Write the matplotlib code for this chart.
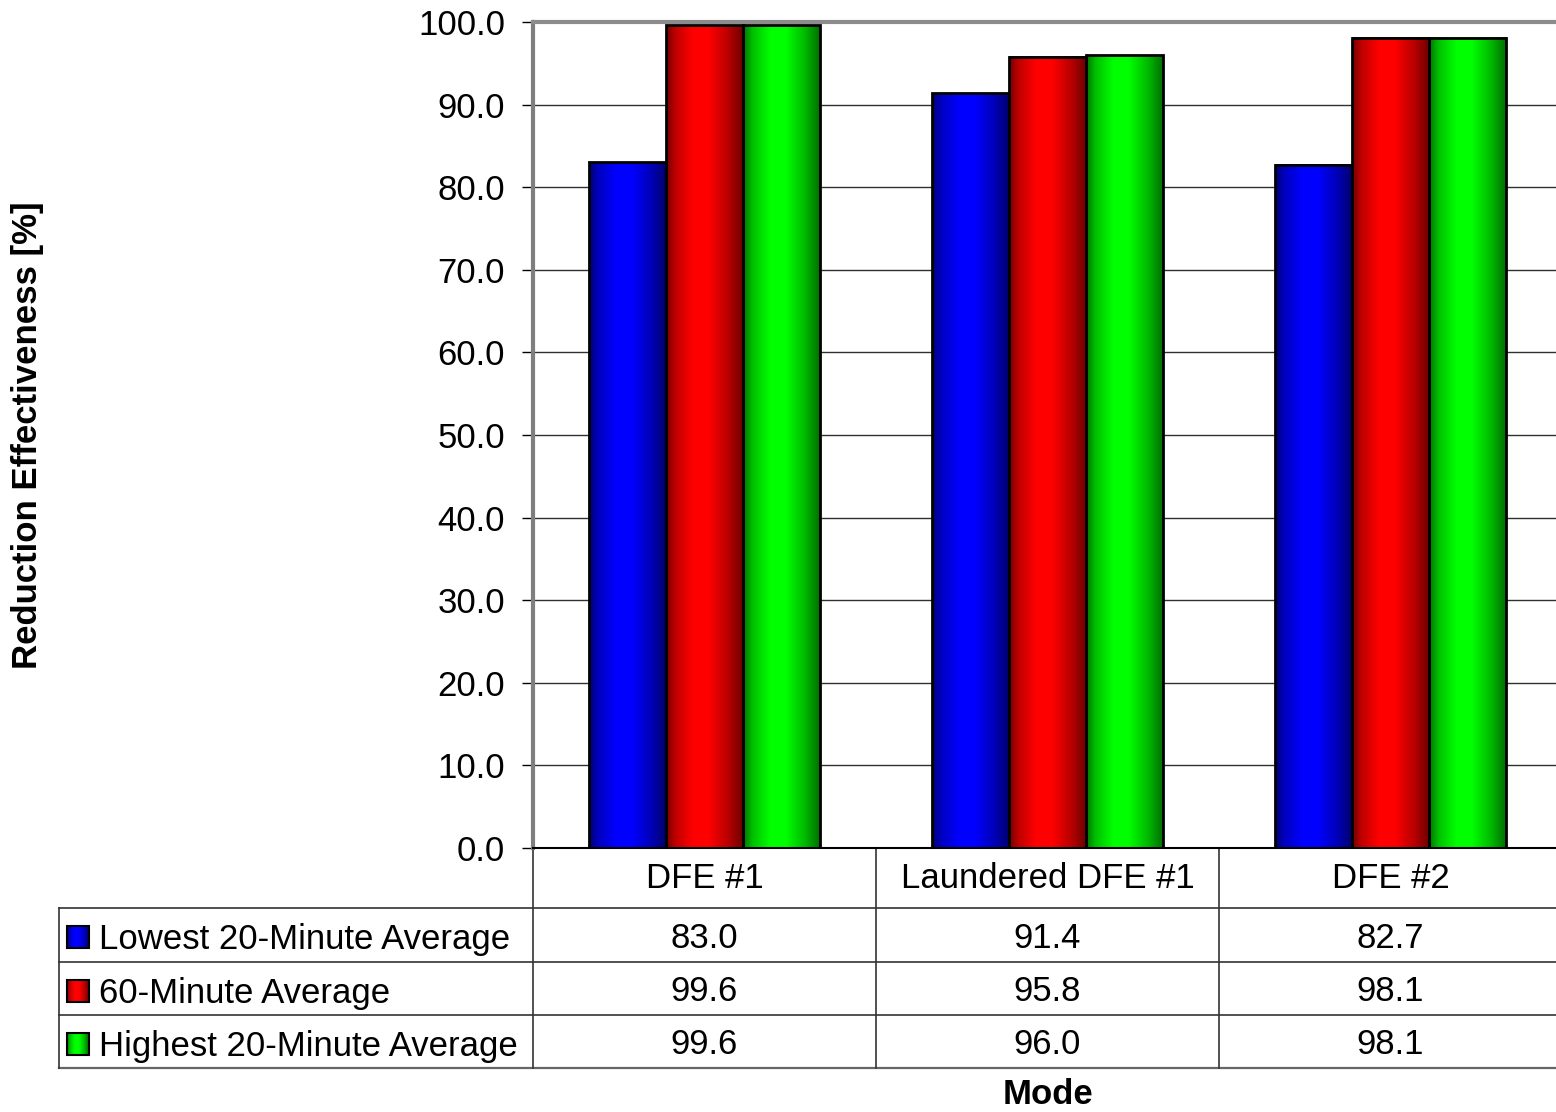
import matplotlib.pyplot as plt
import numpy as np
from matplotlib.patches import Rectangle
from matplotlib.ticker import FormatStrFormatter

modes = ["DFE #1", "Laundered DFE #1", "DFE #2"]
series_names = ["Lowest 20-Minute Average", "60-Minute Average", "Highest 20-Minute Average"]
lowest_20 = [83.0, 91.4, 82.7]
avg_60 = [99.6, 95.8, 98.1]
highest_20 = [99.6, 96.0, 98.1]
series_colors = [(0.0, 0.0, 1.0), (1.0, 0.0, 0.0), (0.0, 1.0, 0.0)]

plt.rcParams["font.family"] = ["Liberation Sans", "DejaVu Sans"]

W, H = 1556, 1112
FS = 25
fig = plt.figure(figsize=(W / 100, H / 100), dpi=100)


def fx(px):
    return px / W


def fy(py):
    return 1 - py / H


# plot area in pixels (right edge runs slightly past the figure)
plot_l, plot_r, plot_t, plot_b = 533, 1562, 22, 848
ax = fig.add_axes([fx(plot_l), fy(plot_b), (plot_r - plot_l) / W, (plot_b - plot_t) / H])

# cylinder-like horizontal shading for the bars
shade_t = np.linspace(0, 1, 200)
shade = np.interp(shade_t, [0, 0.12, 0.35, 0.55, 0.8, 1], [0.45, 0.75, 1.0, 1.0, 0.72, 0.42])


def gradient(rgb):
    return np.array(rgb)[None, None, :] * shade[None, :, None]


values = [lowest_20, avg_60, highest_20]
x = np.arange(len(modes))
bw = 0.225
for i, (vals, rgb) in enumerate(zip(values, series_colors)):
    for xi, v in zip(x + (i - 1) * bw, vals):
        ax.imshow(gradient(rgb), extent=[xi - bw / 2, xi + bw / 2, 0, v],
                  aspect="auto", interpolation="bilinear", zorder=2)
        ax.add_patch(Rectangle((xi - bw / 2, 0), bw, v, fill=False,
                               ec="black", lw=2, zorder=3))

ax.set_xlim(-0.5, 2.5)
ax.set_ylim(0, 100)
ax.set_xticks([])
ax.set_yticks(np.arange(0, 101, 10))
ax.yaxis.set_major_formatter(FormatStrFormatter("%.1f"))
ax.tick_params(axis="y", length=8, width=1, pad=12, labelsize=FS, direction="out")
ax.set_axisbelow(True)
ax.yaxis.grid(True, color="#303030", lw=1)

ax.spines["right"].set_visible(False)
ax.spines["top"].set_color("#8c8c8c")
ax.spines["top"].set_linewidth(3)
ax.spines["left"].set_color("#7f7f7f")
ax.spines["left"].set_linewidth(3)
ax.spines["bottom"].set_color("black")
ax.spines["bottom"].set_linewidth(1.5)

# data table under the plot, drawn in pixel coordinates
tax = fig.add_axes([0, 0, 1, 1], zorder=-1)
tax.set_xlim(0, W)
tax.set_ylim(H, 0)
tax.axis("off")

table_l = 59
col_w = (plot_r - plot_l) / 3
col_edges = plot_l + col_w * np.arange(4)
row_edges = [848, 908, 962, 1015, 1068]
line_kw = dict(color="#333333", lw=1.2)

for y in row_edges[1:-1]:
    tax.plot([table_l, plot_r], [y, y], **line_kw)
tax.plot([table_l, plot_r], [row_edges[-1], row_edges[-1]], color="#666666", lw=1.6)
tax.plot([table_l, table_l], [row_edges[1], row_edges[-1]], **line_kw)
for xe in col_edges[:-1]:
    tax.plot([xe, xe], [row_edges[0], row_edges[-1]], **line_kw)

col_centers = (col_edges[:-1] + col_edges[1:]) / 2
for xc, mode in zip(col_centers, modes):
    tax.text(xc, (row_edges[0] + row_edges[1]) / 2 + 1, mode, ha="center", va="center", fontsize=FS)

for r, (name, vals, rgb) in enumerate(zip(series_names, values, series_colors)):
    yc = (row_edges[r + 1] + row_edges[r + 2]) / 2 + 2
    # legend key
    tax.imshow(gradient(rgb), extent=[67, 89, yc + 11, yc - 11],
               aspect="auto", interpolation="bilinear", zorder=2)
    tax.add_patch(Rectangle((67, yc - 11), 22, 22, fill=False, ec="black", lw=1.5, zorder=3))
    tax.text(99, yc + 3, name, ha="left", va="center", fontsize=FS)
    for xc, v in zip(col_centers, vals):
        tax.text(xc, yc + 1, f"{v:.1f}", ha="center", va="center", fontsize=FS)
tax.set_xlim(0, W)
tax.set_ylim(H, 0)

fig.text(fx(28), fy(435), "Reduction Effectiveness [%]", rotation=90,
         ha="center", va="center", fontsize=FS, fontweight="bold")
fig.text(fx(1048), fy(1095), "Mode", ha="center", va="center",
         fontsize=FS, fontweight="bold")

fig.savefig("out.png", dpi=100)
